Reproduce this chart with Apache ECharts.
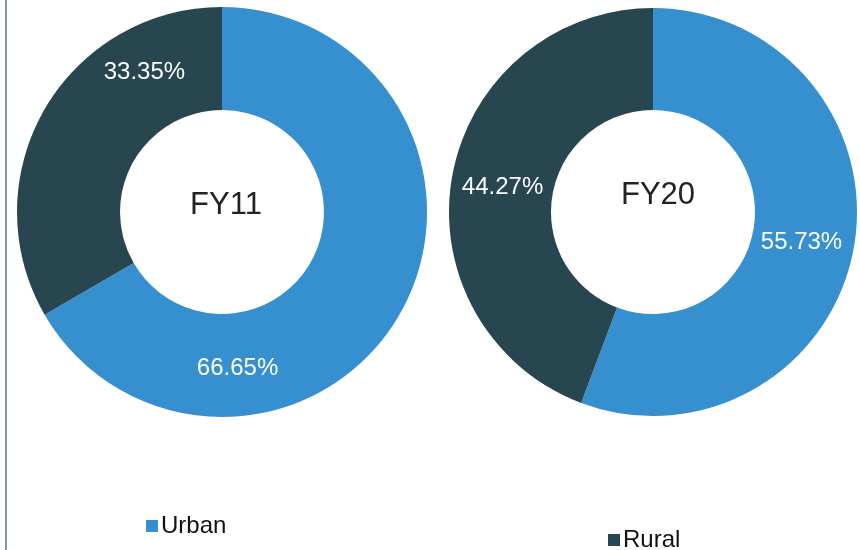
<!DOCTYPE html>
<html>
<head>
<meta charset="utf-8">
<script src="https://cdn.jsdelivr.net/npm/echarts@6/dist/echarts.min.js"></script>
<style>
  html, body { margin: 0; padding: 0; background: #fff; }
  #main { width: 860px; height: 550px; }
</style>
</head>
<body>
<div id="main"></div>
<script>
var myChart = echarts.init(document.getElementById('main'));

// data
var years = ['FY11', 'FY20'];
var categories = ['Urban', 'Rural'];
var urbanShare = [66.65, 55.73];
var ruralShare = [33.35, 44.27];

var colors = ['#3690d0', '#27464f'];

// label nudges (the left donut's labels were moved by hand in the original)
var labelShift = [
    [[-120, 78], [58, -61]],
    [[-5, 2], [3, 3]]
];

function pieData(i) {
    return [
        { name: categories[0], value: urbanShare[i] },
        { name: categories[1], value: ruralShare[i] }
    ];
}

function shiftLabel(params) {
    var s = labelShift[params.seriesIndex][params.dataIndex];
    return { dx: s[0], dy: s[1] };
}

var labelStyle = {
    position: 'inside',
    formatter: '{c}%',
    color: '#fff',
    fontFamily: 'Liberation Sans',
    fontSize: 24
};

var titleStyle = { fontFamily: 'Liberation Sans', fontSize: 31, fontWeight: 'normal', color: '#222' };
var legendText = { fontFamily: 'Liberation Sans', fontSize: 24, color: '#111', padding: [0, 0, 0, -2] };

var option = {
    color: colors,
    animation: false,
    title: [{
        text: years[0],
        left: 221,
        top: 185,
        textAlign: 'center',
        textStyle: titleStyle
    }, {
        text: years[1],
        left: 653,
        top: 175,
        textAlign: 'center',
        textStyle: titleStyle
    }],
    legend: [{
        data: [categories[0]],
        left: 141,
        top: 509,
        itemWidth: 12,
        itemHeight: 12,
        icon: 'rect',
        textStyle: legendText
    }, {
        data: [categories[1]],
        left: 603,
        top: 523,
        itemWidth: 12,
        itemHeight: 12,
        icon: 'rect',
        textStyle: legendText
    }],
    graphic: [{
        type: 'line',
        shape: { x1: 6, y1: 0, x2: 6, y2: 550 },
        style: { stroke: '#8796a3', lineWidth: 2 }
    }],
    series: [{
        name: years[0],
        type: 'pie',
        center: [222, 212],
        radius: [102, 205],
        startAngle: 90,
        clockwise: true,
        label: labelStyle,
        labelLayout: shiftLabel,
        labelLine: { show: false },
        emphasis: { disabled: true },
        data: pieData(0)
    }, {
        name: years[1],
        type: 'pie',
        center: [653, 212],
        radius: [102, 204],
        startAngle: 90,
        clockwise: true,
        label: labelStyle,
        labelLayout: shiftLabel,
        labelLine: { show: false },
        emphasis: { disabled: true },
        data: pieData(1)
    }]
};

myChart.setOption(option);
window.onresize = myChart.resize;
</script>
</body>
</html>
